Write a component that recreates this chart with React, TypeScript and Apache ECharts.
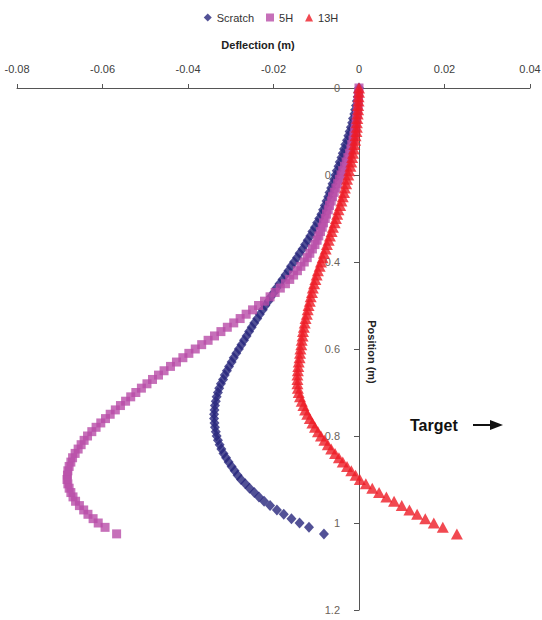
import React, { useEffect, useRef } from "react";
import * as echarts from "echarts";

const positions = [
  0,0.01,0.02,0.03,0.04,0.05,0.06,0.07,0.08,0.09,
  0.1,0.11,0.12,0.13,0.14,0.15,0.16,0.17,0.18,0.19,
  0.2,0.21,0.22,0.23,0.24,0.25,0.26,0.27,0.28,0.29,
  0.3,0.31,0.32,0.33,0.34,0.35,0.36,0.37,0.38,0.39,
  0.4,0.41,0.42,0.43,0.44,0.45,0.46,0.47,0.48,0.49,
  0.5,0.51,0.52,0.53,0.54,0.55,0.56,0.57,0.58,0.59,
  0.6,0.61,0.62,0.63,0.64,0.65,0.66,0.67,0.68,0.69,
  0.7,0.71,0.72,0.73,0.74,0.75,0.76,0.77,0.78,0.79,
  0.8,0.81,0.82,0.83,0.84,0.85,0.86,0.87,0.88,0.89,
  0.9,0.91,0.92,0.93,0.94,0.95,0.96,0.97,0.98,0.99,
  1,1.01,1.025,
];

const scratch = [
  0,-0.0002,-0.0003,-0.0005,-0.0007,-0.0009,-0.0011,-0.0014,-0.0016,-0.0019,
  -0.0022,-0.0025,-0.0028,-0.0032,-0.0035,-0.0038,-0.0041,-0.0045,-0.0048,-0.0052,
  -0.0055,-0.0058,-0.0062,-0.0065,-0.0069,-0.0072,-0.0076,-0.0080,-0.0084,-0.0088,
  -0.0093,-0.0098,-0.0103,-0.0109,-0.0114,-0.0120,-0.0126,-0.0132,-0.0139,-0.0145,
  -0.0152,-0.0159,-0.0165,-0.0172,-0.0179,-0.0186,-0.0193,-0.0199,-0.0206,-0.0212,
  -0.0219,-0.0225,-0.0232,-0.0238,-0.0245,-0.0251,-0.0257,-0.0263,-0.0269,-0.0275,
  -0.0281,-0.0287,-0.0293,-0.0298,-0.0304,-0.0309,-0.0314,-0.0318,-0.0323,-0.0327,
  -0.0330,-0.0333,-0.0335,-0.0337,-0.0338,-0.0339,-0.0339,-0.0338,-0.0337,-0.0335,
  -0.0333,-0.0330,-0.0326,-0.0322,-0.0317,-0.0311,-0.0305,-0.0298,-0.0291,-0.0284,
  -0.0276,-0.0266,-0.0256,-0.0245,-0.0234,-0.0222,-0.0208,-0.0192,-0.0176,-0.0158,
  -0.0139,-0.0117,-0.0082,
];

const h5 = [
  0,-0.0001,-0.0001,-0.0002,-0.0002,-0.0003,-0.0004,-0.0006,-0.0007,-0.0009,
  -0.0010,-0.0012,-0.0014,-0.0017,-0.0019,-0.0022,-0.0026,-0.0030,-0.0034,-0.0038,
  -0.0042,-0.0046,-0.0050,-0.0054,-0.0058,-0.0062,-0.0065,-0.0069,-0.0072,-0.0076,
  -0.0079,-0.0083,-0.0086,-0.0090,-0.0094,-0.0098,-0.0103,-0.0109,-0.0115,-0.0121,
  -0.0128,-0.0136,-0.0144,-0.0153,-0.0162,-0.0172,-0.0184,-0.0196,-0.0208,-0.0221,
  -0.0235,-0.0249,-0.0264,-0.0278,-0.0293,-0.0308,-0.0323,-0.0338,-0.0353,-0.0368,
  -0.0383,-0.0398,-0.0412,-0.0427,-0.0441,-0.0456,-0.0469,-0.0483,-0.0496,-0.0509,
  -0.0522,-0.0534,-0.0546,-0.0558,-0.0570,-0.0582,-0.0593,-0.0604,-0.0615,-0.0625,
  -0.0635,-0.0643,-0.0650,-0.0657,-0.0664,-0.0670,-0.0674,-0.0678,-0.0681,-0.0682,
  -0.0683,-0.0681,-0.0678,-0.0674,-0.0669,-0.0663,-0.0654,-0.0644,-0.0634,-0.0622,
  -0.0610,-0.0594,-0.0567,
];

const h13 = [
  0,0,-0.0001,-0.0001,-0.0002,-0.0002,-0.0003,-0.0004,-0.0005,-0.0005,
  -0.0006,-0.0008,-0.0009,-0.0011,-0.0012,-0.0014,-0.0016,-0.0018,-0.0020,-0.0023,
  -0.0025,-0.0028,-0.0030,-0.0033,-0.0035,-0.0038,-0.0041,-0.0044,-0.0048,-0.0051,
  -0.0054,-0.0057,-0.0061,-0.0064,-0.0068,-0.0071,-0.0075,-0.0078,-0.0082,-0.0085,
  -0.0089,-0.0092,-0.0096,-0.0099,-0.0102,-0.0105,-0.0108,-0.0110,-0.0113,-0.0115,
  -0.0118,-0.0120,-0.0122,-0.0125,-0.0127,-0.0129,-0.0131,-0.0132,-0.0134,-0.0135,
  -0.0137,-0.0138,-0.0139,-0.0141,-0.0142,-0.0143,-0.0144,-0.0144,-0.0144,-0.0143,
  -0.0141,-0.0138,-0.0134,-0.0130,-0.0126,-0.0121,-0.0115,-0.0109,-0.0103,-0.0096,
  -0.0089,-0.0081,-0.0073,-0.0065,-0.0056,-0.0047,-0.0038,-0.0028,-0.0018,-0.0008,
  0.0002,0.0016,0.0031,0.0047,0.0064,0.0082,0.0100,0.0118,0.0136,0.0155,
  0.0175,0.0196,0.0229,
];

const seriesNames = ["Scratch", "5H", "13H"];
const FONT = "'Liberation Sans', Arial, Helvetica, sans-serif";

export default function App() {
  const ref = useRef<HTMLDivElement>(null);
  useEffect(() => {
    if (!ref.current) return;
    const chart = echarts.init(ref.current, null, { renderer: "svg" });
    const mk = (vals: number[]) => vals.map((v, i) => [v, positions[i]]);
    chart.setOption({
      animation: false,
      backgroundColor: "#ffffff",
      textStyle: { fontFamily: FONT },
      legend: {
        data: seriesNames,
        top: 7,
        left: "center",
        itemWidth: 8,
        itemHeight: 8,
        itemGap: 12,
        textStyle: { fontFamily: FONT, fontSize: 11, color: "#333" },
      },
      grid: { left: 17, right: 12, top: 88, bottom: 10, containLabel: false, outerBoundsMode: "none" },
      xAxis: {
        type: "value",
        position: "top",
        min: -0.08,
        max: 0.04,
        interval: 0.02,
        axisLine: { onZero: false, lineStyle: { color: "#555", width: 1 } },
        axisTick: { length: 4, lineStyle: { color: "#555" } },
        axisLabel: { margin: 14, fontSize: 11, color: "#404040", fontFamily: FONT },
        splitLine: { show: false },
      },
      yAxis: {
        type: "value",
        inverse: true,
        min: 0,
        max: 1.2,
        interval: 0.2,
        position: "left",
        offset: -342,
        axisLine: { onZero: false, lineStyle: { color: "#555", width: 1 } },
        axisTick: { show: true, length: 5, lineStyle: { color: "#555" } },
        axisLabel: { margin: 19, fontSize: 11, color: "#6b6259", fontFamily: FONT },
        splitLine: { show: false },
      },
      graphic: [
        {
          type: "text",
          x: 258,
          y: 45,
          style: {
            text: "Deflection (m)",
            font: `bold 11px ${FONT}`,
            fill: "#222",
            align: "center",
            verticalAlign: "middle",
          },
        },
        {
          type: "text",
          x: 372,
          y: 352,
          rotation: -Math.PI / 2,
          style: {
            text: "Position (m)",
            font: `bold 11px ${FONT}`,
            fill: "#222",
            align: "center",
            verticalAlign: "middle",
          },
        },
        {
          type: "text",
          x: 410,
          y: 425,
          style: {
            text: "Target",
            font: `bold 16px ${FONT}`,
            fill: "#111",
            align: "left",
            verticalAlign: "middle",
          },
        },
        {
          type: "line",
          shape: { x1: 473, y1: 425, x2: 492, y2: 425 },
          style: { stroke: "#111", lineWidth: 2 },
        },
        {
          type: "polygon",
          shape: { points: [[490, 420], [503, 425], [490, 430]] },
          style: { fill: "#111" },
        },
      ],
      series: [
        {
          name: "Scratch",
          type: "scatter",
          symbol: "diamond",
          symbolSize: [10, 11],
          itemStyle: { color: "#27267c" },
          data: mk(scratch),
        },
        {
          name: "5H",
          type: "scatter",
          symbol: "rect",
          symbolSize: 9,
          itemStyle: { color: "#b84ca8" },
          data: mk(h5),
        },
        {
          name: "13H",
          type: "scatter",
          symbol: "triangle",
          symbolSize: [12, 11],
          itemStyle: { color: "#ee1c25" },
          data: mk(h13),
        },
      ],
    });
    return () => chart.dispose();
  }, []);
  return (
    <div
      ref={ref}
      style={{ position: "fixed", left: 0, top: 0, width: 542, height: 620, background: "#fff" }}
    />
  );
}
